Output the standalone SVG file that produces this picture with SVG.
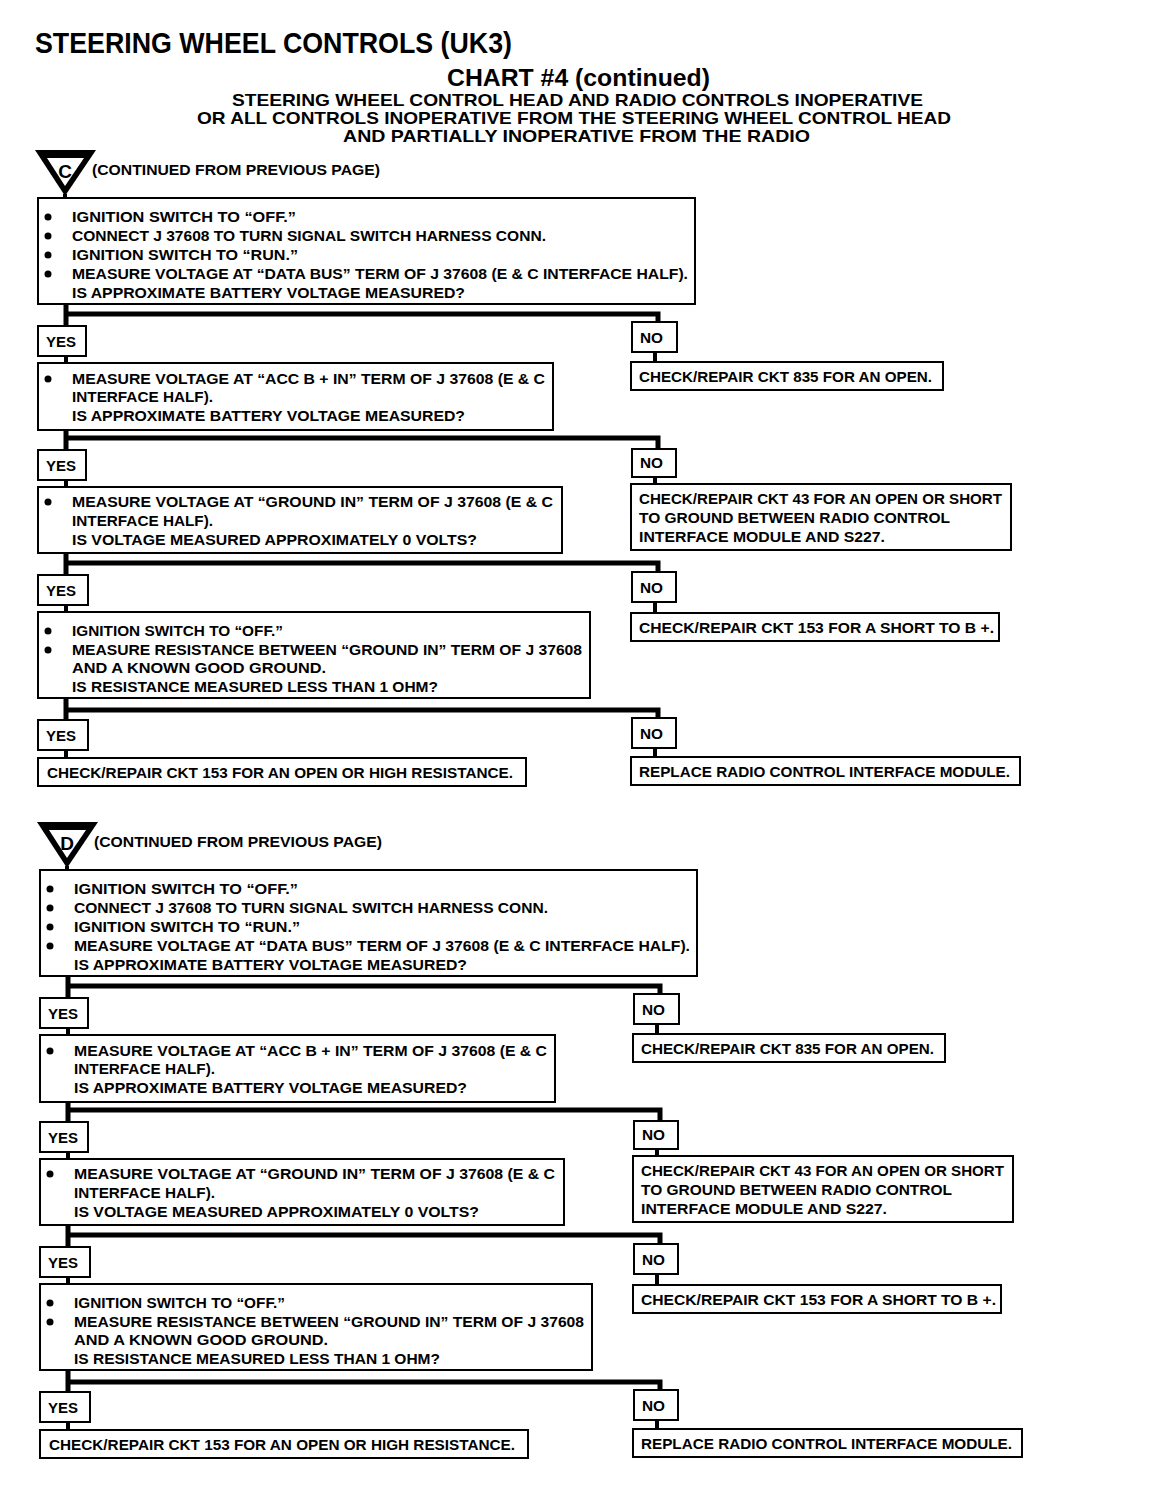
<svg xmlns="http://www.w3.org/2000/svg" width="1152" height="1488" viewBox="0 0 1152 1488">
<style>
.bg{fill:#fff}
.box{fill:#fff;stroke:#000;stroke-width:2}
.t{font-family:"Liberation Sans",Arial,sans-serif;font-weight:bold;font-size:15px;fill:#000}
.lbl{font-family:"Liberation Sans",Arial,sans-serif;font-weight:bold;font-size:14px;fill:#000}
.hd{font-family:"Liberation Sans",Arial,sans-serif;font-weight:bold;fill:#000}
.conn{stroke:#000;stroke-width:5;fill:none}
.link{stroke:#000;stroke-width:4;fill:none}
.bul{fill:#000}
</style>
<defs>
<g id="tri">
<polygon points="35,150 96,150 65,196" fill="#000"/>
<polygon points="47,158 84,158 65,186" fill="#fff"/>
<line x1="65" y1="194" x2="65" y2="199" class="link"/>
</g>
</defs>
<rect class="bg" x="0" y="0" width="1152" height="1488"/>
<g id="title">
<text class="hd" x="35" y="53" font-size="30" textLength="477" lengthAdjust="spacingAndGlyphs">STEERING WHEEL CONTROLS (UK3)</text>
<text class="hd" x="447" y="86" font-size="23" textLength="263" lengthAdjust="spacingAndGlyphs">CHART #4 (continued)</text>
<text class="hd" x="232" y="106" font-size="17" textLength="691" lengthAdjust="spacingAndGlyphs">STEERING WHEEL CONTROL HEAD AND RADIO CONTROLS INOPERATIVE</text>
<text class="hd" x="197" y="124" font-size="17" textLength="754" lengthAdjust="spacingAndGlyphs">OR ALL CONTROLS INOPERATIVE FROM THE STEERING WHEEL CONTROL HEAD</text>
<text class="hd" x="343" y="142" font-size="17" textLength="467" lengthAdjust="spacingAndGlyphs">AND PARTIALLY INOPERATIVE FROM THE RADIO</text>
</g>

<!-- Section C -->
<g id="sectionC">
<g id="C-start">
<use href="#tri"/>
<text class="hd" x="65" y="178" font-size="19" text-anchor="middle">C</text>
<text class="t" x="92" y="175" textLength="288" lengthAdjust="spacingAndGlyphs">(CONTINUED FROM PREVIOUS PAGE)</text>
</g>
<g id="C-connectors">
<path class="conn" d="M66 304 V326 M66 314 H658 V322"/>
<path class="link" d="M66 356 V363 M655 352 V362"/>
<path class="conn" d="M66 430 V450 M66 438 H658 V449"/>
<path class="link" d="M66 480 V487 M655 477 V484"/>
<path class="conn" d="M66 553 V575 M66 563 H658 V572"/>
<path class="link" d="M66 605 V612 M655 602 V613"/>
<path class="conn" d="M66 698 V720 M66 710 H658 V718"/>
<path class="link" d="M66 750 V758 M655 748 V757"/>
</g>
<g id="C-q1">
<rect class="box" x="38" y="198" width="657" height="106"/>
<circle class="bul" cx="48" cy="217" r="3.5"/><circle class="bul" cx="48" cy="236" r="3.5"/><circle class="bul" cx="48" cy="255" r="3.5"/><circle class="bul" cx="48" cy="274" r="3.5"/>
<text class="t" x="72" y="222" textLength="224" lengthAdjust="spacingAndGlyphs">IGNITION SWITCH TO “OFF.”</text>
<text class="t" x="72" y="241" textLength="474" lengthAdjust="spacingAndGlyphs">CONNECT J 37608 TO TURN SIGNAL SWITCH HARNESS CONN.</text>
<text class="t" x="72" y="260" textLength="226" lengthAdjust="spacingAndGlyphs">IGNITION SWITCH TO “RUN.”</text>
<text class="t" x="72" y="279" textLength="616" lengthAdjust="spacingAndGlyphs">MEASURE VOLTAGE AT “DATA BUS” TERM OF J 37608 (E &amp; C INTERFACE HALF).</text>
<text class="t" x="72" y="298" textLength="393" lengthAdjust="spacingAndGlyphs">IS APPROXIMATE BATTERY VOLTAGE MEASURED?</text>
</g>
<g id="C-yes1"><rect class="box" x="38" y="326" width="48" height="30"/><text class="lbl" x="46" y="347" textLength="30" lengthAdjust="spacingAndGlyphs">YES</text></g>
<g id="C-no1"><rect class="box" x="632" y="322" width="45" height="30"/><text class="lbl" x="640" y="343" textLength="23" lengthAdjust="spacingAndGlyphs">NO</text></g>
<g id="C-q2">
<rect class="box" x="38" y="363" width="515" height="67"/>
<circle class="bul" cx="48" cy="379" r="3.5"/>
<text class="t" x="72" y="384" textLength="473" lengthAdjust="spacingAndGlyphs">MEASURE VOLTAGE AT “ACC B + IN” TERM OF J 37608 (E &amp; C</text>
<text class="t" x="72" y="402" textLength="141" lengthAdjust="spacingAndGlyphs">INTERFACE HALF).</text>
<text class="t" x="72" y="421" textLength="393" lengthAdjust="spacingAndGlyphs">IS APPROXIMATE BATTERY VOLTAGE MEASURED?</text>
</g>
<g id="C-r1"><rect class="box" x="631" y="362" width="312" height="28"/><text class="t" x="639" y="382" textLength="293" lengthAdjust="spacingAndGlyphs">CHECK/REPAIR CKT 835 FOR AN OPEN.</text></g>
<g id="C-yes2"><rect class="box" x="38" y="450" width="48" height="30"/><text class="lbl" x="46" y="471" textLength="30" lengthAdjust="spacingAndGlyphs">YES</text></g>
<g id="C-no2"><rect class="box" x="632" y="449" width="44" height="28"/><text class="lbl" x="640" y="468" textLength="23" lengthAdjust="spacingAndGlyphs">NO</text></g>
<g id="C-q3">
<rect class="box" x="38" y="487" width="524" height="66"/>
<circle class="bul" cx="48" cy="502" r="3.5"/>
<text class="t" x="72" y="507" textLength="481" lengthAdjust="spacingAndGlyphs">MEASURE VOLTAGE AT “GROUND IN” TERM OF J 37608 (E &amp; C</text>
<text class="t" x="72" y="526" textLength="141" lengthAdjust="spacingAndGlyphs">INTERFACE HALF).</text>
<text class="t" x="72" y="545" textLength="405" lengthAdjust="spacingAndGlyphs">IS VOLTAGE MEASURED APPROXIMATELY 0 VOLTS?</text>
</g>
<g id="C-r2">
<rect class="box" x="631" y="484" width="380" height="66"/>
<text class="t" x="639" y="504" textLength="363" lengthAdjust="spacingAndGlyphs">CHECK/REPAIR CKT 43 FOR AN OPEN OR SHORT</text>
<text class="t" x="639" y="523" textLength="311" lengthAdjust="spacingAndGlyphs">TO GROUND BETWEEN RADIO CONTROL</text>
<text class="t" x="639" y="542" textLength="246" lengthAdjust="spacingAndGlyphs">INTERFACE MODULE AND S227.</text>
</g>
<g id="C-yes3"><rect class="box" x="38" y="575" width="50" height="30"/><text class="lbl" x="46" y="596" textLength="30" lengthAdjust="spacingAndGlyphs">YES</text></g>
<g id="C-no3"><rect class="box" x="632" y="572" width="44" height="30"/><text class="lbl" x="640" y="593" textLength="23" lengthAdjust="spacingAndGlyphs">NO</text></g>
<g id="C-q4">
<rect class="box" x="38" y="612" width="552" height="86"/>
<circle class="bul" cx="48" cy="631" r="3.5"/><circle class="bul" cx="48" cy="650" r="3.5"/>
<text class="t" x="72" y="636" textLength="211" lengthAdjust="spacingAndGlyphs">IGNITION SWITCH TO “OFF.”</text>
<text class="t" x="72" y="655" textLength="510" lengthAdjust="spacingAndGlyphs">MEASURE RESISTANCE BETWEEN “GROUND IN” TERM OF J 37608</text>
<text class="t" x="72" y="673" textLength="254" lengthAdjust="spacingAndGlyphs">AND A KNOWN GOOD GROUND.</text>
<text class="t" x="72" y="692" textLength="366" lengthAdjust="spacingAndGlyphs">IS RESISTANCE MEASURED LESS THAN 1 OHM?</text>
</g>
<g id="C-r3"><rect class="box" x="631" y="613" width="368" height="28"/><text class="t" x="639" y="633" textLength="355" lengthAdjust="spacingAndGlyphs">CHECK/REPAIR CKT 153 FOR A SHORT TO B +.</text></g>
<g id="C-yes4"><rect class="box" x="38" y="720" width="50" height="30"/><text class="lbl" x="46" y="741" textLength="30" lengthAdjust="spacingAndGlyphs">YES</text></g>
<g id="C-no4"><rect class="box" x="632" y="718" width="44" height="30"/><text class="lbl" x="640" y="739" textLength="23" lengthAdjust="spacingAndGlyphs">NO</text></g>
<g id="C-r4"><rect class="box" x="38" y="758" width="488" height="28"/><text class="t" x="47" y="778" textLength="466" lengthAdjust="spacingAndGlyphs">CHECK/REPAIR CKT 153 FOR AN OPEN OR HIGH RESISTANCE.</text></g>
<g id="C-r5"><rect class="box" x="631" y="757" width="389" height="28"/><text class="t" x="639" y="777" textLength="371" lengthAdjust="spacingAndGlyphs">REPLACE RADIO CONTROL INTERFACE MODULE.</text></g>
</g>

<!-- Section D -->
<g id="sectionD" transform="translate(2,672)">
<g id="D-start">
<use href="#tri"/>
<text class="hd" x="65" y="178" font-size="19" text-anchor="middle">D</text>
<text class="t" x="92" y="175" textLength="288" lengthAdjust="spacingAndGlyphs">(CONTINUED FROM PREVIOUS PAGE)</text>
</g>
<g id="D-connectors">
<path class="conn" d="M66 304 V326 M66 314 H658 V322"/>
<path class="link" d="M66 356 V363 M655 352 V362"/>
<path class="conn" d="M66 430 V450 M66 438 H658 V449"/>
<path class="link" d="M66 480 V487 M655 477 V484"/>
<path class="conn" d="M66 553 V575 M66 563 H658 V572"/>
<path class="link" d="M66 605 V612 M655 602 V613"/>
<path class="conn" d="M66 698 V720 M66 710 H658 V718"/>
<path class="link" d="M66 750 V758 M655 748 V757"/>
</g>
<g id="D-q1">
<rect class="box" x="38" y="198" width="657" height="106"/>
<circle class="bul" cx="48" cy="217" r="3.5"/><circle class="bul" cx="48" cy="236" r="3.5"/><circle class="bul" cx="48" cy="255" r="3.5"/><circle class="bul" cx="48" cy="274" r="3.5"/>
<text class="t" x="72" y="222" textLength="224" lengthAdjust="spacingAndGlyphs">IGNITION SWITCH TO “OFF.”</text>
<text class="t" x="72" y="241" textLength="474" lengthAdjust="spacingAndGlyphs">CONNECT J 37608 TO TURN SIGNAL SWITCH HARNESS CONN.</text>
<text class="t" x="72" y="260" textLength="226" lengthAdjust="spacingAndGlyphs">IGNITION SWITCH TO “RUN.”</text>
<text class="t" x="72" y="279" textLength="616" lengthAdjust="spacingAndGlyphs">MEASURE VOLTAGE AT “DATA BUS” TERM OF J 37608 (E &amp; C INTERFACE HALF).</text>
<text class="t" x="72" y="298" textLength="393" lengthAdjust="spacingAndGlyphs">IS APPROXIMATE BATTERY VOLTAGE MEASURED?</text>
</g>
<g id="D-yes1"><rect class="box" x="38" y="326" width="48" height="30"/><text class="lbl" x="46" y="347" textLength="30" lengthAdjust="spacingAndGlyphs">YES</text></g>
<g id="D-no1"><rect class="box" x="632" y="322" width="45" height="30"/><text class="lbl" x="640" y="343" textLength="23" lengthAdjust="spacingAndGlyphs">NO</text></g>
<g id="D-q2">
<rect class="box" x="38" y="363" width="515" height="67"/>
<circle class="bul" cx="48" cy="379" r="3.5"/>
<text class="t" x="72" y="384" textLength="473" lengthAdjust="spacingAndGlyphs">MEASURE VOLTAGE AT “ACC B + IN” TERM OF J 37608 (E &amp; C</text>
<text class="t" x="72" y="402" textLength="141" lengthAdjust="spacingAndGlyphs">INTERFACE HALF).</text>
<text class="t" x="72" y="421" textLength="393" lengthAdjust="spacingAndGlyphs">IS APPROXIMATE BATTERY VOLTAGE MEASURED?</text>
</g>
<g id="D-r1"><rect class="box" x="631" y="362" width="312" height="28"/><text class="t" x="639" y="382" textLength="293" lengthAdjust="spacingAndGlyphs">CHECK/REPAIR CKT 835 FOR AN OPEN.</text></g>
<g id="D-yes2"><rect class="box" x="38" y="450" width="48" height="30"/><text class="lbl" x="46" y="471" textLength="30" lengthAdjust="spacingAndGlyphs">YES</text></g>
<g id="D-no2"><rect class="box" x="632" y="449" width="44" height="28"/><text class="lbl" x="640" y="468" textLength="23" lengthAdjust="spacingAndGlyphs">NO</text></g>
<g id="D-q3">
<rect class="box" x="38" y="487" width="524" height="66"/>
<circle class="bul" cx="48" cy="502" r="3.5"/>
<text class="t" x="72" y="507" textLength="481" lengthAdjust="spacingAndGlyphs">MEASURE VOLTAGE AT “GROUND IN” TERM OF J 37608 (E &amp; C</text>
<text class="t" x="72" y="526" textLength="141" lengthAdjust="spacingAndGlyphs">INTERFACE HALF).</text>
<text class="t" x="72" y="545" textLength="405" lengthAdjust="spacingAndGlyphs">IS VOLTAGE MEASURED APPROXIMATELY 0 VOLTS?</text>
</g>
<g id="D-r2">
<rect class="box" x="631" y="484" width="380" height="66"/>
<text class="t" x="639" y="504" textLength="363" lengthAdjust="spacingAndGlyphs">CHECK/REPAIR CKT 43 FOR AN OPEN OR SHORT</text>
<text class="t" x="639" y="523" textLength="311" lengthAdjust="spacingAndGlyphs">TO GROUND BETWEEN RADIO CONTROL</text>
<text class="t" x="639" y="542" textLength="246" lengthAdjust="spacingAndGlyphs">INTERFACE MODULE AND S227.</text>
</g>
<g id="D-yes3"><rect class="box" x="38" y="575" width="50" height="30"/><text class="lbl" x="46" y="596" textLength="30" lengthAdjust="spacingAndGlyphs">YES</text></g>
<g id="D-no3"><rect class="box" x="632" y="572" width="44" height="30"/><text class="lbl" x="640" y="593" textLength="23" lengthAdjust="spacingAndGlyphs">NO</text></g>
<g id="D-q4">
<rect class="box" x="38" y="612" width="552" height="86"/>
<circle class="bul" cx="48" cy="631" r="3.5"/><circle class="bul" cx="48" cy="650" r="3.5"/>
<text class="t" x="72" y="636" textLength="211" lengthAdjust="spacingAndGlyphs">IGNITION SWITCH TO “OFF.”</text>
<text class="t" x="72" y="655" textLength="510" lengthAdjust="spacingAndGlyphs">MEASURE RESISTANCE BETWEEN “GROUND IN” TERM OF J 37608</text>
<text class="t" x="72" y="673" textLength="254" lengthAdjust="spacingAndGlyphs">AND A KNOWN GOOD GROUND.</text>
<text class="t" x="72" y="692" textLength="366" lengthAdjust="spacingAndGlyphs">IS RESISTANCE MEASURED LESS THAN 1 OHM?</text>
</g>
<g id="D-r3"><rect class="box" x="631" y="613" width="368" height="28"/><text class="t" x="639" y="633" textLength="355" lengthAdjust="spacingAndGlyphs">CHECK/REPAIR CKT 153 FOR A SHORT TO B +.</text></g>
<g id="D-yes4"><rect class="box" x="38" y="720" width="50" height="30"/><text class="lbl" x="46" y="741" textLength="30" lengthAdjust="spacingAndGlyphs">YES</text></g>
<g id="D-no4"><rect class="box" x="632" y="718" width="44" height="30"/><text class="lbl" x="640" y="739" textLength="23" lengthAdjust="spacingAndGlyphs">NO</text></g>
<g id="D-r4"><rect class="box" x="38" y="758" width="488" height="28"/><text class="t" x="47" y="778" textLength="466" lengthAdjust="spacingAndGlyphs">CHECK/REPAIR CKT 153 FOR AN OPEN OR HIGH RESISTANCE.</text></g>
<g id="D-r5"><rect class="box" x="631" y="757" width="389" height="28"/><text class="t" x="639" y="777" textLength="371" lengthAdjust="spacingAndGlyphs">REPLACE RADIO CONTROL INTERFACE MODULE.</text></g>
</g>
</svg>
